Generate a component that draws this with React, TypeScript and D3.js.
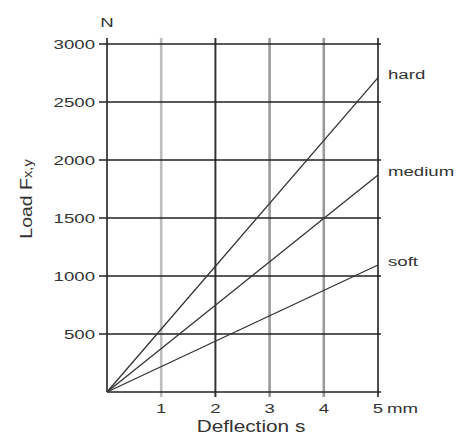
import React from 'react';
import * as d3 from 'd3';

// data
const xTicks = [1, 2, 3, 4, 5];
const yTicks = [500, 1000, 1500, 2000, 2500, 3000];
const seriesNames = ['hard', 'medium', 'soft'];
const seriesEndLoad = [2710, 1870, 1095]; // N at 5 mm, lines start at origin
const xMax = 5;
const yMax = 3000;

// vertical grid shades (per tick 1..5)
const vColors = ['#bdbdbd', '#333333', '#9a9a9a', '#9a9a9a', '#222222'];
const vWidths = [2.6, 2, 2.6, 2.6, 1.6];

const FONT = '"Liberation Sans", Arial, Helvetica, sans-serif';
const TXT = '#333';
const STRETCH = 1.38;

const App: React.FC = () => {
  const width = 459;
  const height = 436;

  const x = d3.scaleLinear().domain([0, xMax]).range([107, 378]);
  const y = d3.scaleLinear().domain([0, yMax]).range([392, 44]);

  const line = d3.line<[number, number]>()
    .x(d => x(d[0]))
    .y(d => y(d[1]));

  return (
    <svg width={width} height={height} style={{ position: 'absolute', left: 0, top: 0, background: '#fff' }}>
      {/* vertical grid lines */}
      {xTicks.map((t, i) => (
        <line key={'v' + t} x1={x(t)} x2={x(t)} y1={38} y2={397}
          stroke={vColors[i]} strokeWidth={vWidths[i]} />
      ))}

      {/* horizontal grid lines with left ticks */}
      {yTicks.map(t => (
        <line key={'h' + t} x1={99} x2={381} y1={y(t)} y2={y(t)}
          stroke="#222" strokeWidth={1.5} />
      ))}

      {/* axes */}
      <line x1={x(0)} x2={x(0)} y1={38} y2={y(0)} stroke="#222" strokeWidth={1.6} />
      <line x1={x(0)} x2={381} y1={y(0)} y2={y(0)} stroke="#222" strokeWidth={1.6} />

      {/* series */}
      {seriesNames.map((name, i) => (
        <path key={name}
          d={line([[0, 0], [xMax, seriesEndLoad[i]]]) || ''}
          fill="none" stroke="#333" strokeWidth={1.3} />
      ))}

      {/* series labels */}
      {seriesNames.map((name, i) => (
        <text key={'l' + name}
          transform={`translate(${x(xMax) + 10},${y(seriesEndLoad[i]) + 1}) scale(${STRETCH},1)`}
          fontFamily={FONT} fontSize={13.5} fill={TXT}>{name}</text>
      ))}

      {/* y tick labels */}
      {yTicks.map(t => (
        <text key={'yt' + t}
          transform={`translate(95,${y(t) + 5}) scale(${STRETCH},1)`}
          textAnchor="end" fontFamily={FONT} fontSize={13.5} fill={TXT}>{t}</text>
      ))}

      {/* x tick labels */}
      {xTicks.map(t => (
        <text key={'xt' + t}
          transform={`translate(${x(t)},413) scale(${STRETCH},1)`}
          textAnchor="middle" fontFamily={FONT} fontSize={13.5} fill={TXT}>{t}</text>
      ))}
      <text transform={`translate(${x(xMax) + 9},413) scale(${STRETCH},1)`}
        fontFamily={FONT} fontSize={13.5} fill={TXT}>mm</text>

      {/* units / titles */}
      <text transform={`translate(${x(0)},27) scale(${STRETCH},1)`}
        textAnchor="middle" fontFamily={FONT} fontSize={13.5} fill={TXT}>N</text>

      <text transform="translate(251,432) scale(1.3,1)"
        textAnchor="middle" fontFamily={FONT} fontSize={16} fill={TXT}>Deflection s</text>

      <text transform="translate(32,199) rotate(-90) scale(1.22,1)"
        textAnchor="middle" fontFamily={FONT} fontSize={16} fill={TXT}>
        Load F<tspan fontSize={12}>x,y</tspan>
      </text>
    </svg>
  );
};

export default App;
